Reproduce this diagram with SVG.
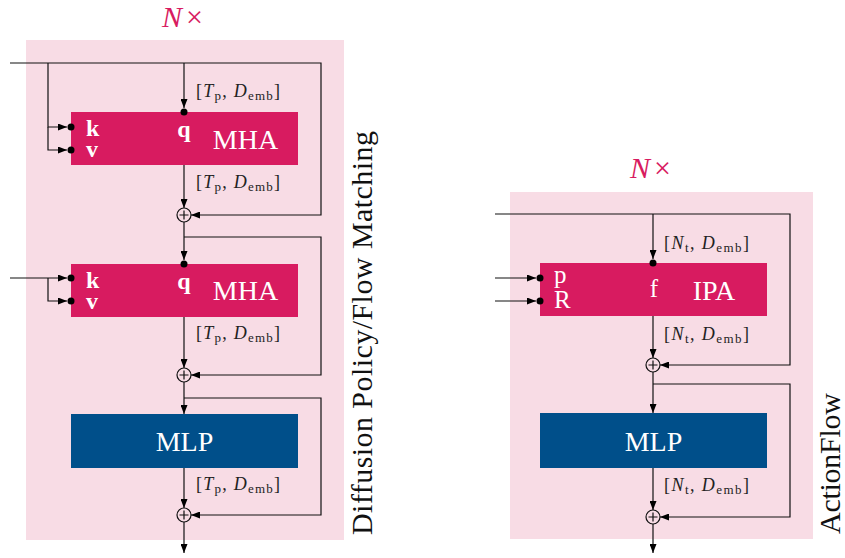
<svg xmlns="http://www.w3.org/2000/svg" width="845" height="558" viewBox="0 0 845 558">
  <defs>
    <style>
      .panel { fill: #F8DCE5; }
      .attn { fill: #D81B60; }
      .mlp { fill: #004F8A; }
      .ln { stroke: #111; stroke-width: 1.2; fill: none; }
      .arr { marker-end: url(#ah); }
      .dot { fill: #000; }
      .sum { fill: none; stroke: #111; stroke-width: 1.2; }
      .boxname { font-family: "Liberation Serif", "Times New Roman", serif; font-size: 28px; fill: #fff; text-anchor: middle; }
      .port { font-family: "Liberation Serif", "Times New Roman", serif; font-size: 24px; font-weight: bold; fill: #fff; }
      .port2 { font-family: "Liberation Serif", "Times New Roman", serif; font-size: 25px; fill: #fff; }
      .lbl { font-family: "Liberation Serif", "Times New Roman", serif; font-size: 18px; fill: #222; }
      .it { font-style: italic; }
      .sub { font-size: 13px; }
      .rep { font-family: "Liberation Serif", "Times New Roman", serif; font-size: 30px; fill: #D81B60; }
      .title { font-family: "Liberation Serif", "Times New Roman", serif; font-size: 30px; fill: #111; }
    </style>
    <marker id="ah" viewBox="0 0 9 7" refX="9" refY="3.5" markerWidth="9" markerHeight="7" markerUnits="userSpaceOnUse" orient="auto">
      <path d="M0,0 L9,3.5 L0,7 z" fill="#000"/>
    </marker>
  </defs>

  <!-- block backgrounds -->
  <g id="panel-left">
    <rect class="panel" x="26" y="40" width="318" height="500"/>
    <text class="rep" x="162" y="27"><tspan class="it">N</tspan><tspan dx="4">×</tspan></text>
  </g>
  <g id="panel-right">
    <rect class="panel" x="510" y="192" width="303" height="347"/>
    <text class="rep" x="630" y="178"><tspan class="it">N</tspan><tspan dx="4">×</tspan></text>
  </g>

  <!-- connectors -->
  <g id="connectors">
    <!-- left stack -->
    <polyline class="ln arr" points="10,63 321,63 321,215 191,215"/>
    <polyline class="ln arr" points="48,63 48,127 67,127"/>
    <polyline class="ln arr" points="48,127 48,150 67,150"/>
    <line class="ln arr" x1="184" y1="63" x2="184" y2="108"/>
    <line class="ln arr" x1="184" y1="165" x2="184" y2="208"/>
    <line class="ln arr" x1="184" y1="222" x2="184" y2="260"/>
    <polyline class="ln arr" points="184,237 321,237 321,375 191,375"/>
    <line class="ln arr" x1="10" y1="278" x2="67" y2="278"/>
    <polyline class="ln arr" points="48,278 48,301 67,301"/>
    <line class="ln arr" x1="184" y1="317" x2="184" y2="368"/>
    <line class="ln arr" x1="184" y1="382" x2="184" y2="414"/>
    <polyline class="ln arr" points="184,398 321,398 321,515 191,515"/>
    <line class="ln arr" x1="184" y1="468" x2="184" y2="508"/>
    <line class="ln arr" x1="184" y1="522" x2="184" y2="553"/>

    <!-- right stack -->
    <polyline class="ln arr" points="495,214 790,214 790,365 660,365"/>
    <line class="ln arr" x1="653" y1="214" x2="653" y2="259"/>
    <line class="ln arr" x1="495" y1="278" x2="536" y2="278"/>
    <line class="ln arr" x1="495" y1="301" x2="536" y2="301"/>
    <line class="ln arr" x1="653" y1="316" x2="653" y2="358"/>
    <line class="ln arr" x1="653" y1="372" x2="653" y2="413"/>
    <polyline class="ln arr" points="653,384 790,384 790,517 660,517"/>
    <line class="ln arr" x1="653" y1="468" x2="653" y2="510"/>
    <line class="ln arr" x1="653" y1="524" x2="653" y2="553"/>
  </g>

  <!-- attention block 1 -->
  <g id="mha1">
    <rect class="attn" x="71" y="112" width="227" height="53"/>
    <text class="port" x="86" y="136">k</text>
    <text class="port" x="86" y="157">v</text>
    <text class="port" x="184" y="137" text-anchor="middle">q</text>
    <text class="boxname" x="245.5" y="149">MHA</text>
    <circle class="dot" cx="71" cy="127" r="3.5"/>
    <circle class="dot" cx="71" cy="150" r="3.5"/>
    <circle class="dot" cx="184" cy="112" r="3.5"/>
  </g>

  <!-- attention block 2 -->
  <g id="mha2">
    <rect class="attn" x="71" y="264" width="227" height="53"/>
    <text class="port" x="86" y="288">k</text>
    <text class="port" x="86" y="309">v</text>
    <text class="port" x="184" y="289" text-anchor="middle">q</text>
    <text class="boxname" x="245.5" y="300">MHA</text>
    <circle class="dot" cx="71" cy="278" r="3.5"/>
    <circle class="dot" cx="71" cy="301" r="3.5"/>
    <circle class="dot" cx="184" cy="264" r="3.5"/>
  </g>

  <!-- feed-forward, left -->
  <g id="mlp1">
    <rect class="mlp" x="71" y="414" width="227" height="54"/>
    <text class="boxname" x="184.5" y="451">MLP</text>
  </g>

  <!-- invariant point attention -->
  <g id="ipa">
    <rect class="attn" x="540" y="263" width="227" height="53"/>
    <text class="port2" x="554" y="283">p</text>
    <text class="port2" x="554" y="308">R</text>
    <text class="port2" x="654" y="297" text-anchor="middle">f</text>
    <text class="boxname" x="714" y="300">IPA</text>
    <circle class="dot" cx="540" cy="278" r="3.5"/>
    <circle class="dot" cx="540" cy="301" r="3.5"/>
    <circle class="dot" cx="653" cy="263" r="3.5"/>
  </g>

  <!-- feed-forward, right -->
  <g id="mlp2">
    <rect class="mlp" x="540" y="413" width="227" height="55"/>
    <text class="boxname" x="653.5" y="451">MLP</text>
  </g>

  <!-- residual sums -->
  <g id="sums">
    <g id="sum1"><circle class="sum" cx="184" cy="215" r="7"/><path class="ln" d="M179.5,215 H188.5 M184,210.5 V219.5"/></g>
    <g id="sum2"><circle class="sum" cx="184" cy="375" r="7"/><path class="ln" d="M179.5,375 H188.5 M184,370.5 V379.5"/></g>
    <g id="sum3"><circle class="sum" cx="184" cy="515" r="7"/><path class="ln" d="M179.5,515 H188.5 M184,510.5 V519.5"/></g>
    <g id="sum4"><circle class="sum" cx="653" cy="365" r="7"/><path class="ln" d="M648.5,365 H657.5 M653,360.5 V369.5"/></g>
    <g id="sum5"><circle class="sum" cx="653" cy="517" r="7"/><path class="ln" d="M648.5,517 H657.5 M653,512.5 V521.5"/></g>
  </g>

  <!-- tensor shape labels -->
  <g id="shapes">
    <text class="lbl" x="196" y="97" textLength="84">[<tspan class="it">T</tspan><tspan class="sub" dy="3">p</tspan><tspan dy="-3">, </tspan><tspan class="it">D</tspan><tspan class="sub" dy="3">emb</tspan><tspan dy="-3">]</tspan></text>
    <text class="lbl" x="196" y="188" textLength="84">[<tspan class="it">T</tspan><tspan class="sub" dy="3">p</tspan><tspan dy="-3">, </tspan><tspan class="it">D</tspan><tspan class="sub" dy="3">emb</tspan><tspan dy="-3">]</tspan></text>
    <text class="lbl" x="196" y="339" textLength="84">[<tspan class="it">T</tspan><tspan class="sub" dy="3">p</tspan><tspan dy="-3">, </tspan><tspan class="it">D</tspan><tspan class="sub" dy="3">emb</tspan><tspan dy="-3">]</tspan></text>
    <text class="lbl" x="196" y="490" textLength="84">[<tspan class="it">T</tspan><tspan class="sub" dy="3">p</tspan><tspan dy="-3">, </tspan><tspan class="it">D</tspan><tspan class="sub" dy="3">emb</tspan><tspan dy="-3">]</tspan></text>
    <text class="lbl" x="664" y="249" textLength="85">[<tspan class="it">N</tspan><tspan class="sub" dy="3">t</tspan><tspan dy="-3">, </tspan><tspan class="it">D</tspan><tspan class="sub" dy="3">emb</tspan><tspan dy="-3">]</tspan></text>
    <text class="lbl" x="664" y="340" textLength="85">[<tspan class="it">N</tspan><tspan class="sub" dy="3">t</tspan><tspan dy="-3">, </tspan><tspan class="it">D</tspan><tspan class="sub" dy="3">emb</tspan><tspan dy="-3">]</tspan></text>
    <text class="lbl" x="664" y="491" textLength="85">[<tspan class="it">N</tspan><tspan class="sub" dy="3">t</tspan><tspan dy="-3">, </tspan><tspan class="it">D</tspan><tspan class="sub" dy="3">emb</tspan><tspan dy="-3">]</tspan></text>
  </g>

  <!-- side captions -->
  <g id="captions">
    <text class="title" x="372" y="535" transform="rotate(-90 372 535)" textLength="404">Diffusion Policy/Flow Matching</text>
    <text class="title" x="840" y="534" transform="rotate(-90 840 534)" textLength="141">ActionFlow</text>
  </g>
</svg>
